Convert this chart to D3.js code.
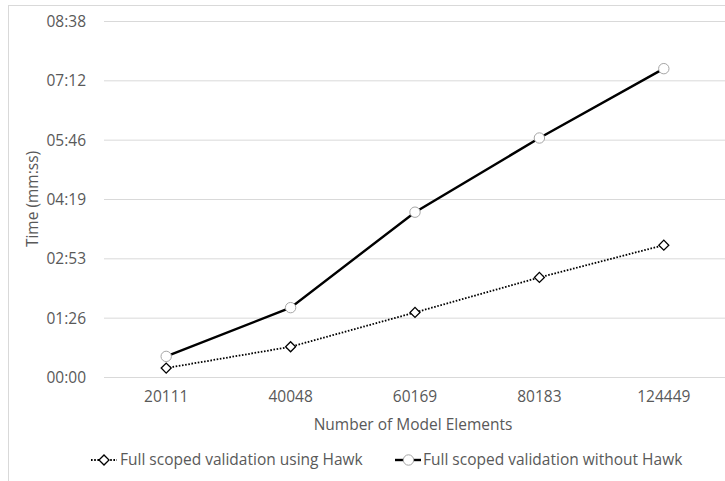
<!DOCTYPE html>
<html>
<head>
<meta charset="utf-8">
<script src="https://cdn.jsdelivr.net/npm/d3@7"></script>
<style>
  body { margin: 0; background: #fff; }
  svg { display: block; font-family: "Open Sans", "Liberation Sans", sans-serif; }
  .tick text { fill: #595959; font-size: 15.5px; font-family: "Open Sans", sans-serif; }
  .grid line { stroke: #d9d9d9; stroke-width: 1; }
  .label { fill: #595959; font-size: 15.5px; }
</style>
</head>
<body>
<div id="wrapper"></div>
<script>
// 1. Data (seconds)

const categories = ["20111", "40048", "60169", "80183", "124449"]
const withHawk = [13, 44, 94, 145, 192]
const withoutHawk = [30, 101, 240, 348, 449]
const yTicks = [0, 86.4, 172.8, 259.2, 345.6, 432, 518.4]
const seriesNames = ["Full scoped validation using Hawk", "Full scoped validation without Hawk"]

// 2. Dimensions

const dimensions = {
  width: 725,
  height: 481,
  margin: { top: 21, right: -1, bottom: 104, left: 104 },
}
dimensions.boundedWidth = dimensions.width - dimensions.margin.left - dimensions.margin.right
dimensions.boundedHeight = dimensions.height - dimensions.margin.top - dimensions.margin.bottom

// 3. Canvas

const wrapper = d3.select("#wrapper")
  .append("svg")
    .attr("width", dimensions.width)
    .attr("height", dimensions.height)

wrapper.append("rect")
    .attr("x", 8.5)
    .attr("y", 5.5)
    .attr("width", dimensions.width + 10)
    .attr("height", dimensions.height + 10)
    .attr("fill", "none")
    .attr("stroke", "#d9d9d9")

const bounds = wrapper.append("g")
    .attr("transform", `translate(${dimensions.margin.left}, ${dimensions.margin.top})`)

// 4. Scales

const xScale = d3.scaleBand()
    .domain(categories)
    .range([0, dimensions.boundedWidth])

const yScale = d3.scaleLinear()
    .domain([0, 518.4])
    .range([dimensions.boundedHeight, 0])

const fmt = s => {
  const t = Math.round(s)
  return d3.format("02")(Math.floor(t / 60)) + ":" + d3.format("02")(t % 60)
}

// 5. Axes & grid

const yAxis = bounds.append("g")
    .attr("class", "grid")
    .call(d3.axisLeft(yScale)
      .tickValues(yTicks)
      .tickSize(-dimensions.boundedWidth)
      .tickPadding(18)
      .tickFormat(fmt))
yAxis.select(".domain").remove()
yAxis.selectAll(".tick text").attr("dy", "0.35em")

const xAxis = bounds.append("g")
    .attr("transform", `translate(0, ${dimensions.boundedHeight})`)
    .call(d3.axisBottom(xScale).tickSize(0).tickPadding(14))
xAxis.select(".domain").remove()

// 6. Lines

const xCenter = (d, i) => xScale(categories[i]) + xScale.bandwidth() / 2
const lineGenerator = d3.line()
    .x(xCenter)
    .y(d => yScale(d))

bounds.append("path")
    .datum(withHawk)
    .attr("fill", "none")
    .attr("stroke", "#000")
    .attr("stroke-width", 1.8)
    .attr("stroke-dasharray", "1.6,1.6")
    .attr("d", lineGenerator)

bounds.append("path")
    .datum(withoutHawk)
    .attr("fill", "none")
    .attr("stroke", "#000")
    .attr("stroke-width", 2.4)
    .attr("d", lineGenerator)

const diamond = d3.symbol().type(d3.symbolSquare).size(50)

bounds.selectAll(".hawk-marker")
  .data(withHawk)
  .enter().append("path")
    .attr("class", "hawk-marker")
    .attr("d", diamond)
    .attr("transform", (d, i) => `translate(${xCenter(d, i)}, ${yScale(d)}) rotate(45)`)
    .attr("fill", "#fff")
    .attr("stroke", "#000")
    .attr("stroke-width", 1.3)

bounds.selectAll(".nohawk-marker")
  .data(withoutHawk)
  .enter().append("circle")
    .attr("class", "nohawk-marker")
    .attr("cx", xCenter)
    .attr("cy", d => yScale(d))
    .attr("r", 5.2)
    .attr("fill", "#fff")
    .attr("stroke", "#a6a6a6")
    .attr("stroke-width", 1)

// 7. Labels & legend

wrapper.append("text")
    .attr("class", "label")
    .attr("text-anchor", "middle")
    .attr("transform", "translate(38, 199) rotate(-90)")
    .text("Time (mm:ss)")

wrapper.append("text")
    .attr("class", "label")
    .attr("x", 413)
    .attr("y", 425)
    .attr("dy", "0.35em")
    .attr("text-anchor", "middle")
    .text("Number of Model Elements")

const legend = wrapper.append("g")
    .attr("transform", "translate(0, 460)")

legend.append("line")
    .attr("x1", 91).attr("x2", 117)
    .attr("stroke", "#000")
    .attr("stroke-width", 1.8)
    .attr("stroke-dasharray", "1.6,1.6")
legend.append("path")
    .attr("d", diamond)
    .attr("transform", "translate(104, 0) rotate(45)")
    .attr("fill", "#fff")
    .attr("stroke", "#000")
    .attr("stroke-width", 1.3)
legend.append("text")
    .attr("class", "label")
    .attr("x", 120)
    .attr("dy", "0.35em")
    .text(seriesNames[0])

legend.append("line")
    .attr("x1", 395).attr("x2", 421)
    .attr("stroke", "#000")
    .attr("stroke-width", 2.4)
legend.append("circle")
    .attr("cx", 408.5)
    .attr("r", 5.2)
    .attr("fill", "#fff")
    .attr("stroke", "#a6a6a6")
legend.append("text")
    .attr("class", "label")
    .attr("x", 423)
    .attr("dy", "0.35em")
    .text(seriesNames[1])
</script>
</body>
</html>
